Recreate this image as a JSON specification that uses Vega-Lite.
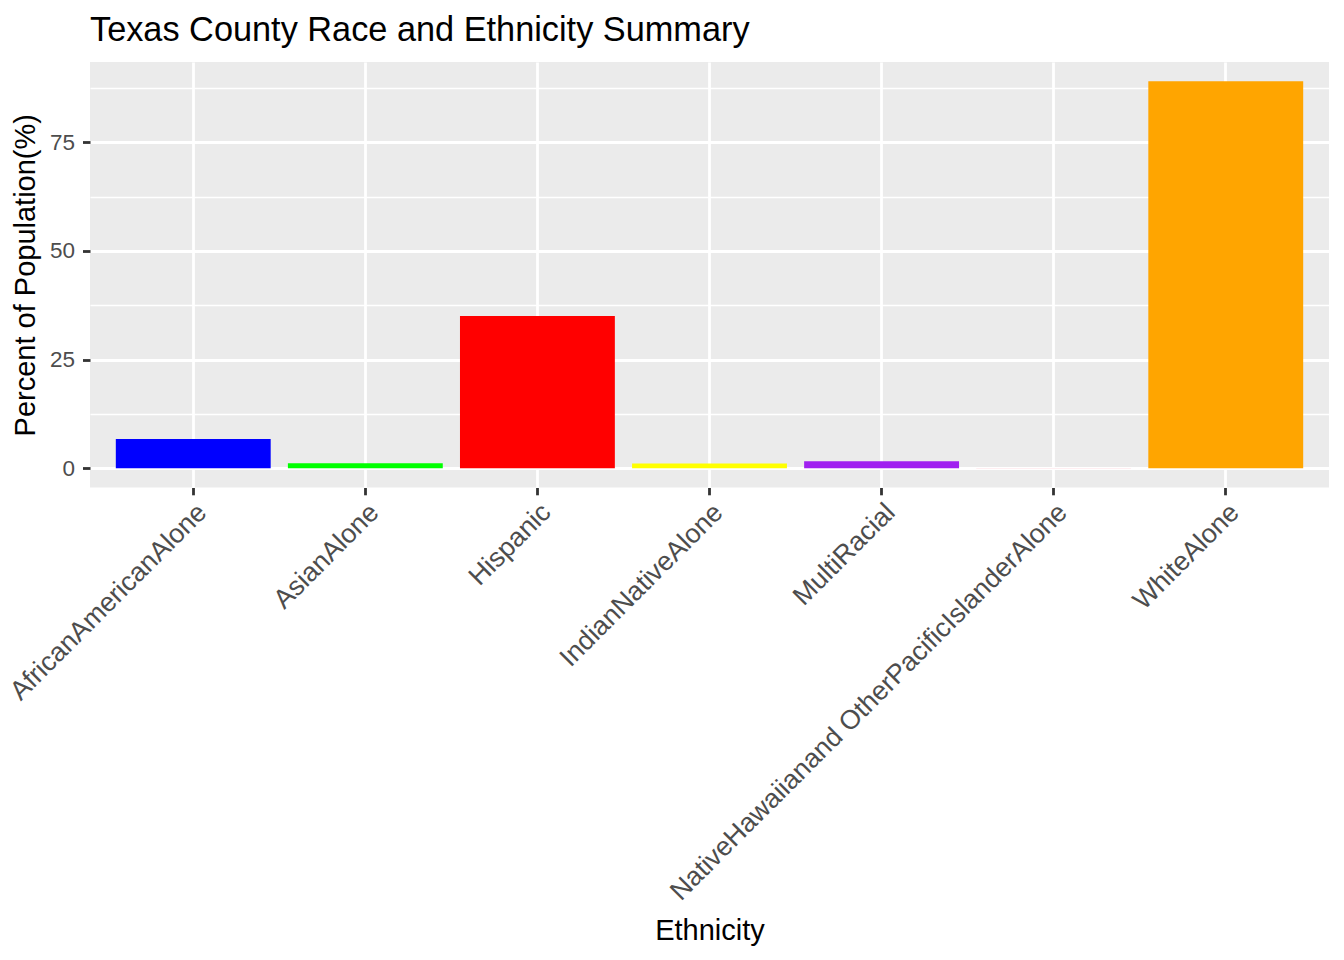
{
  "$schema": "https://vega.github.io/schema/vega-lite/v6.json",
  "width": 1239,
  "height": 425.5,
  "autosize": {"type": "none"},
  "padding": {"left": 90, "top": 62, "right": 15, "bottom": 472.5},
  "background": "white",
  "title": {
    "text": "Texas County Race and Ethnicity Summary",
    "anchor": "start",
    "frame": "group",
    "font": "Liberation Sans",
    "fontSize": 34.3,
    "fontWeight": "normal",
    "color": "#000000",
    "offset": 14
  },
  "config": {
    "view": {"fill": "#EBEBEB", "stroke": null},
    "font": "Liberation Sans"
  },
  "data": {
    "values": [
      {"Ethnicity": "AfricanAmericanAlone", "Percent": 6.7},
      {"Ethnicity": "AsianAlone", "Percent": 1.15},
      {"Ethnicity": "Hispanic", "Percent": 35.0},
      {"Ethnicity": "IndianNativeAlone", "Percent": 1.1},
      {"Ethnicity": "MultiRacial", "Percent": 1.6},
      {"Ethnicity": "NativeHawaiianand OtherPacificIslanderAlone", "Percent": 0.06},
      {"Ethnicity": "WhiteAlone", "Percent": 89.0}
    ]
  },
  "mark": {"type": "bar"},
  "encoding": {
    "x": {
      "field": "Ethnicity",
      "type": "nominal",
      "sort": null,
      "scale": {"paddingInner": 0.1, "paddingOuter": 0.15},
      "axis": {
        "title": "Ethnicity",
        "titleFont": "Liberation Sans",
        "titleFontSize": 29,
        "titleFontWeight": "normal",
        "titleColor": "#000000",
        "titleBaseline": "alphabetic",
        "titleY": 452,
        "labelAngle": -45,
        "labelAlign": "right",
        "labelBaseline": "top",
        "labelFont": "Liberation Sans",
        "labelFontSize": 26.8,
        "labelColor": "#4D4D4D",
        "labelPadding": 4,
        "labelOverlap": false,
        "labelLimit": 1000,
        "domain": false,
        "ticks": true,
        "tickColor": "#333333",
        "tickWidth": 2.8,
        "tickSize": 7.3,
        "bandPosition": 0.5,
        "grid": true,
        "gridColor": "#FFFFFF",
        "gridWidth": 2.8
      }
    },
    "y": {
      "field": "Percent",
      "type": "quantitative",
      "scale": {"domain": [-4.45, 93.45], "nice": false, "zero": false},
      "axis": {
        "title": "Percent of Population(%)",
        "titleFont": "Liberation Sans",
        "titleFontSize": 29,
        "titleFontWeight": "normal",
        "titleColor": "#000000",
        "titlePadding": 9,
        "values": [0, 12.5, 25, 37.5, 50, 62.5, 75, 87.5],
        "labelExpr": "datum.value % 25 === 0 ? datum.label : ''",
        "labelFont": "Liberation Sans",
        "labelFontSize": 22.5,
        "labelColor": "#4D4D4D",
        "labelPadding": 8,
        "domain": false,
        "tickColor": "#333333",
        "tickOpacity": {"condition": {"test": "datum.value % 25 === 0", "value": 1}, "value": 0},
        "tickWidth": 2.8,
        "tickSize": 7.5,
        "grid": true,
        "gridColor": "#FFFFFF",
        "gridWidth": {"condition": {"test": "datum.value % 25 === 0", "value": 2.8}, "value": 1.4}
      }
    },
    "y2": {"datum": 0},
    "color": {
      "field": "Ethnicity",
      "type": "nominal",
      "scale": {
        "domain": ["AfricanAmericanAlone", "AsianAlone", "Hispanic", "IndianNativeAlone", "MultiRacial", "NativeHawaiianand OtherPacificIslanderAlone", "WhiteAlone"],
        "range": ["#0000FF", "#00FF00", "#FF0000", "#FFFF00", "#A020F0", "#FFC0CB", "#FFA500"]
      },
      "legend": null
    }
  }
}
